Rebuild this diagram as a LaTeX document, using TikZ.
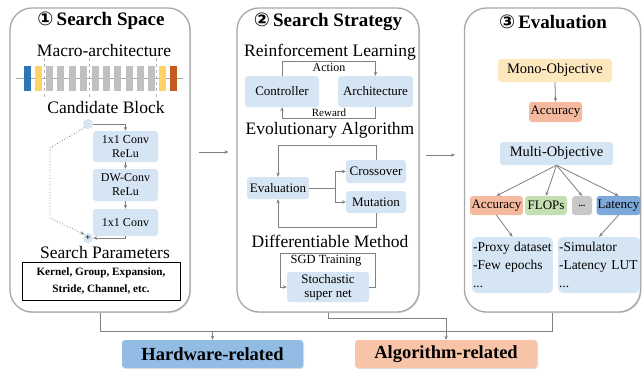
\documentclass[tikz,border=0pt]{standalone}
\usepackage{fontspec}
\setmainfont{LiberationSerif}[
  Extension=.ttf,
  UprightFont=*-Regular,
  BoldFont=*-Bold,
  ItalicFont=*-Italic,
  BoldItalicFont=*-BoldItalic]
\newfontfamily\circfont{DejaVu Sans}
\usetikzlibrary{arrows.meta,shadows,calc}

\definecolor{boxblue}{HTML}{D6E5F3}
\definecolor{panelgray}{HTML}{A8A8A8}
\definecolor{linegray}{HTML}{808080}
\definecolor{monoyellow}{HTML}{FDE8BE}
\definecolor{salmon}{HTML}{F5B9A0}
\definecolor{flopgreen}{HTML}{C4DFB2}
\definecolor{dotgray}{HTML}{C8C8C8}
\definecolor{latblue}{HTML}{7DA8DA}
\definecolor{hwblue}{HTML}{92BCE4}
\definecolor{algpeach}{HTML}{F8C4A8}
\definecolor{barblue}{HTML}{2E75B6}
\definecolor{baryellow}{HTML}{FFD466}
\definecolor{bargray}{HTML}{C0C0C0}
\definecolor{barorange}{HTML}{C55A1F}

\tikzset{
  panel/.style={draw=panelgray, line width=1.3pt, rounded corners=22pt, fill=white,
    drop shadow={shadow xshift=1pt, shadow yshift=-1pt, opacity=0.3}},
  ptitle/.style={font=\fontsize{19}{22}\selectfont\bfseries},
  header/.style={font=\fontsize{17.5}{20}\selectfont, inner sep=0pt},
  sz/.style 2 args={minimum width=#1pt, minimum height=#2pt},
  bbox/.style={fill=boxblue, rounded corners=3pt, inner sep=1pt, align=center,
    font=\fontsize{13}{14}\selectfont},
  cbox/.style={fill=boxblue, rounded corners=3pt, inner sep=1pt, align=center,
    font=\fontsize{12}{14}\selectfont},
  ebox/.style={rounded corners=3pt, inner sep=1pt, align=center,
    font=\fontsize{13}{15}\selectfont},
  lbox/.style={fill=boxblue, rounded corners=5pt, inner xsep=1pt, align=left,
    font=\fontsize{13.5}{18}\selectfont},
  bigbox/.style={rounded corners=3pt, inner sep=1pt,
    font=\fontsize{18.5}{20}\selectfont\bfseries,
    drop shadow={shadow xshift=1pt, shadow yshift=-1pt, opacity=0.25}},
  line/.style={draw=linegray, line width=0.8pt},
  arr/.style={line, -{Stealth[length=4pt,width=3.5pt]}},
  bar/.style={minimum width=7pt, minimum height=25pt, inner sep=0pt},
  tag/.style={font=\fontsize{12}{13}\selectfont, inner sep=1pt}
}

\begin{document}
\begin{tikzpicture}[x=1pt,y=-1pt]
\useasboundingbox (0,0) rectangle (642,369);

% ---------- three panels ----------
\node[panel, sz={180}{304}] (p1) at (100,160) {};
\node[panel, sz={182}{304}] (p2) at (328,160) {};
\node[panel, sz={176}{304}] (p3) at (552.5,160) {};

\node[ptitle] (t1) at (101,21) {{\circfont ①}\,Search Space};
\node[ptitle] (t2) at (328,22) {{\circfont ②}\,Search Strategy};
\node[ptitle] (t3) at (553,22) {{\circfont ③}\,Evaluation};

% ---------- search space ----------
\node[header] (macro) at (104,51) {Macro-architecture};
\draw[line, draw=gray!70] (16,78) -- (183,78);
\foreach \x/\c [count=\i] in {27.5/barblue, 38/baryellow, 49.5/bargray, 60.5/bargray,
    72/bargray, 83.5/bargray, 95.5/bargray, 106.5/bargray, 117.5/bargray,
    129/bargray, 140.5/bargray, 151/bargray, 162.5/baryellow, 173.5/barorange}
  \node[bar, fill=\c] (bar\i) at (\x,78.5) {};
\foreach \x in {44,89,156}
  \draw[gray!60, dashed, line width=0.5pt] (\x,58) -- (\x,100);

\node[header] (cand) at (106,108) {Candidate Block};
\node[circle, fill=boxblue, minimum size=10pt, inner sep=0pt] (split) at (88,124) {};
\node[cbox, sz={65}{31}] (c1) at (125.5,146.5) {1x1 Conv\\ReLu};
\node[cbox, sz={65}{32}] (c2) at (125.5,185) {DW-Conv\\ReLu};
\node[cbox, sz={65}{27}] (c3) at (125.5,222.5) {1x1 Conv};
\node[circle, fill=boxblue, minimum size=10pt, inner sep=0pt,
  font=\fontsize{9}{9}\selectfont\bfseries] (plus) at (88,238) {+};

\draw[arr] (split.east) -| (c1.north);
\draw[arr] (c1.south) -- (c2.north);
\draw[arr] (c2.south) -- (c3.north);
\draw[arr] (c3.south) |- (plus.east);
\draw[arr, dotted] (split.south west) -- (50,148) -- (50,218) -- (plus.north west);

\node[header] (sp) at (105,253) {Search Parameters};
\node[draw=black, line width=0.7pt, sz={158}{38}, align=center, inner sep=1pt,
  font=\fontsize{11.2}{17}\selectfont\bfseries] (params) at (101,281)
  {Kernel, Group, Expansion,\\Stride, Channel, etc.};

% ---------- search strategy ----------
\node[header] (rl) at (330,52) {Reinforcement Learning};
\node[bbox, sz={74}{31}] (ctrl) at (282,91.5) {Controller};
\node[bbox, sz={75}{31}] (arch) at (375.5,91.5) {Architecture};
\draw[arr] (ctrl.north) -- ++(0,-14) -| (arch.north);
\draw[arr] (arch.south) -- ++(0,11) -| (ctrl.south);
\node[tag] (act) at (329,68) {Action};
\node[tag, font=\fontsize{11}{12}\selectfont] (rew) at (329,113) {Reward};

\node[header] (ea) at (330,130) {Evolutionary Algorithm};
\node[bbox, sz={62}{22}] (evalb) at (278,188) {Evaluation};
\node[bbox, sz={60}{23}] (cross) at (376,171.5) {Crossover};
\node[bbox, sz={60}{22}] (mut) at (376,202) {Mutation};
\draw[arr] (cross.north) -- ++(0,-14) -| (evalb.north);
\draw[line] (evalb.east) -- (335,188) coordinate (br);
\draw[arr] (br) |- (cross.west);
\draw[arr] (br) |- (mut.west);
\draw[arr] (mut.south) -- ++(0,14) -| (evalb.south);

\node[header] (dm) at (330,241) {Differentiable Method};
\node[bbox, sz={82}{30}] (stoch) at (328,287) {Stochastic\\super net};
\coordinate (sgdl) at (280,253);
\draw[arr] (stoch.east) -- ++(6,0) |- (sgdl) |- (stoch.west);
\node[tag, font=\fontsize{12.5}{13}\selectfont] (sgd) at (326,261) {SGD Training};

% ---------- evaluation ----------
\node[ebox, fill=monoyellow, sz={114}{23}, font=\fontsize{14.5}{16}\selectfont] (mono) at (555,70.5) {Mono-Objective};
\node[ebox, fill=salmon, sz={53}{20}] (acc1) at (555.5,112) {Accuracy};
\draw[arr] (mono.south) -- (acc1.north);

\node[ebox, fill=boxblue, sz={113}{23}, font=\fontsize{14.5}{16}\selectfont] (multi) at (556.5,153.5) {Multi-Objective};
\node[ebox, fill=salmon, sz={53}{19}] (acc2) at (496.5,205.5) {Accuracy};
\node[ebox, fill=flopgreen, sz={42}{19}] (flops) at (546,205.5) {FLOPs};
\node[ebox, fill=dotgray, sz={20}{19}, font=\fontsize{9}{10}\selectfont\bfseries] (dots) at (582,205.5) {...};
\node[ebox, fill=latblue, sz={43}{19}] (lat) at (618.5,205.5) {Latency};
\foreach \t in {acc2,flops,dots,lat}
  \draw[arr] (multi.south) -- (\t.north);

\node[lbox, sz={81}{56}, text width=79pt] (proxy) at (512.5,265) {-Proxy dataset\\-Few epochs\\...};
\node[lbox, sz={82}{56}, text width=80pt] (sim) at (599,265) {-Simulator\\-Latency LUT\\...};
\draw[arr] (acc2.south) -- (proxy.north);
\draw[arr] (lat.south) -- (sim.north);

% ---------- flow between panels ----------
\draw[arr] ($(p1.east)+(8,-8)$) -- ($(p2.west)+(-8,-8)$);
\draw[arr] ($(p2.east)+(6,-5)$) -- ($(p3.west)+(-9,-5)$);

% ---------- outcome boxes ----------
\node[bigbox, fill=hwblue, sz={181}{28}] (hw) at (212.5,354) {Hardware-related};
\node[bigbox, fill=algpeach, sz={182}{28}] (alg) at (446,354) {Algorithm-related};

\draw[line] (p1.south) -- ++(0,19) -| (p3.south);
\draw[arr] ([yshift=9pt]hw.north) -- (hw.north);
\draw[arr] (p2.south) -- ++(0,6) -| (alg.north);
\end{tikzpicture}
\end{document}
